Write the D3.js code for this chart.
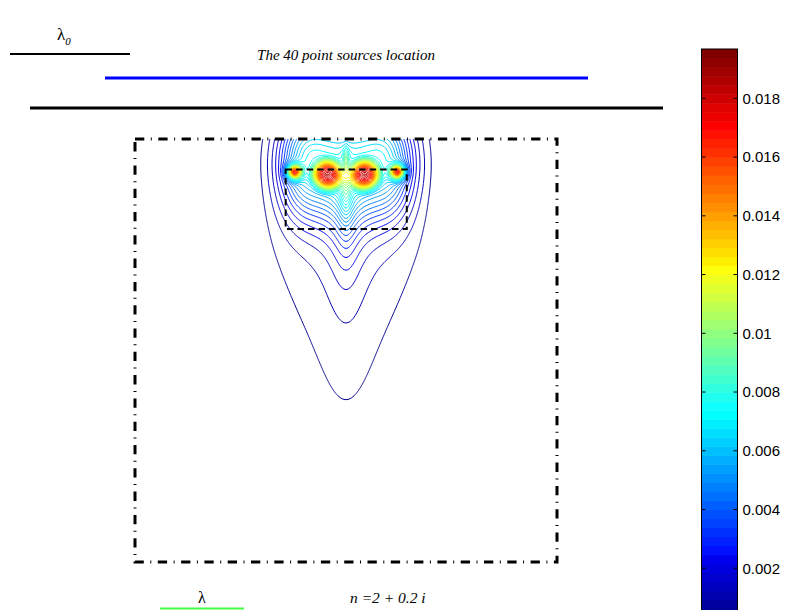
<!DOCTYPE html>
<html>
<head>
<meta charset="utf-8">
<script src="https://cdn.jsdelivr.net/npm/d3@7/dist/d3.min.js"></script>
<style>
  body { margin: 0; background: #fff; }
  svg { display: block; }
</style>
</head>
<body>
<svg id="chart" width="786" height="610"></svg>
<script>
// ---- Field components (box units: x in [-0.5, 0.5], depth z in [0, 1]) ----
// hot spots along the source row: rounded body plus a sharp tip
const spotX         = [-0.122, -0.044, 0.044, 0.122];
const spotZ         = [0.078, 0.085, 0.085, 0.078];
const spotPlateau   = [0.0105, 0.008, 0.008, 0.0105];
const spotRadius    = [0.012, 0.03, 0.03, 0.012];
const spotShape     = [2, 4, 4, 2];
const spotTip       = [0.0015, 0.004, 0.004, 0.0015];
const spotTipRadius = [0.01, 0.026, 0.026, 0.01];
// broad halos around the source row
const haloX   = [-0.122, 0, 0.122];
const haloZ   = [0.06, 0.05, 0.06];
const haloAmp = [0.0032, 0.0069, 0.0032];
const haloSx  = [0.041, 0.1, 0.041];
const haloSz  = [0.09, 0.08, 0.09];
const haloPx  = [2, 4, 2];
// downward transmitted beam
const beamX = 0, beamZ = 0.05;
const beamAmp = 0.000171, beamPow = 1.82, beamCore = 0.15;
const beamNarrow = 0.55, beamSpread = 0.15, beamSoft = 0.04, beamWing = 1.8;

// contour levels and colour scale
const levelCount = 40;
const zMax = 0.01968;
const colorTicks = [0.002, 0.004, 0.006, 0.008, 0.01, 0.012, 0.014, 0.016, 0.018];
const colorTickLabels = ["0.002", "0.004", "0.006", "0.008", "0.01", "0.012", "0.014", "0.016", "0.018"];

// probed sub-region (dashed box)
const regionX = [-0.143, 0.144];
const regionZ = [0.072, 0.213];

// annotation texts
const titleText = "The 40 point sources location";
const indexText = "n =2 + 0.2 i";

// ---- helpers ----
function field(x, z) {
  let v = 0;
  for (let i = 0; i < spotX.length; i++) {
    const dx = x - spotX[i], dz = z - spotZ[i];
    const d = Math.sqrt(dx * dx + dz * dz);
    v += spotPlateau[i] * Math.exp(-0.5 * Math.pow(d / spotRadius[i], spotShape[i]));
    v += spotTip[i] * Math.max(0, 1 - d / spotTipRadius[i]);
  }
  for (let i = 0; i < haloX.length; i++) {
    const ax = Math.abs(x - haloX[i]) / haloSx[i], az = (z - haloZ[i]) / haloSz[i];
    v += haloAmp[i] * Math.exp(-0.5 * Math.pow(ax, haloPx[i]) - 0.5 * az * az);
  }
  const dx = x - beamX, dz = z - beamZ;
  const dzp = Math.max(dz, 0);
  const w = beamSpread * Math.sqrt(dzp * dzp + beamSoft * beamSoft);
  const narrow = 1 / (1 + (dx / w) * (dx / w)) * (dz >= 0 ? 1 : Math.exp(-(dz / 0.03) * (dz / 0.03)));
  const wide = Math.pow(dzp * dzp / (dzp * dzp + dx * dx + 0.0004), beamWing);
  const D = beamNarrow * narrow + (1 - beamNarrow) * wide;
  const r2 = dx * dx + dz * dz;
  const radial = 1 / Math.pow(r2 * r2 + Math.pow(beamCore, 4), beamPow / 4);
  v += beamAmp * D * radial;
  return v;
}

// MATLAB-style jet(64)
function jetRow(i) { // i = 1..64
  const u = k => (k >= 1 && k <= 16) ? k / 16 : (k >= 17 && k <= 31) ? 1 : (k >= 32 && k <= 47) ? (48 - k) / 16 : 0;
  const r = u(i - 24), g = u(i - 8), b = u(i + 7);
  return d3.rgb(Math.round(r * 255), Math.round(g * 255), Math.round(b * 255)).toString();
}
function jetColor(v) {
  const idx = Math.max(1, Math.min(64, Math.floor(v / zMax * 64) + 1));
  return jetRow(idx);
}

// ---- layout ----
const svg = d3.select("#chart");
const xScale = d3.scaleLinear().domain([-0.5, 0.5]).range([135, 557]);
const zScale = d3.scaleLinear().domain([0, 1]).range([139, 562]);
const serif = "'Liberation Serif', 'Times New Roman', serif";

// ---- header schematic ----
svg.append("line").attr("x1", 10).attr("x2", 130).attr("y1", 54).attr("y2", 54)
  .attr("stroke", "#000").attr("stroke-width", 2);
const lam0 = svg.append("text").attr("x", 57).attr("y", 40)
  .attr("font-family", serif).attr("font-size", 17).attr("fill", "#000");
lam0.append("tspan").text("λ");
lam0.append("tspan").attr("dy", 5).attr("font-size", 11).attr("font-style", "italic").text("0");
svg.append("text").attr("x", 346).attr("y", 60).attr("text-anchor", "middle")
  .attr("font-family", serif).attr("font-style", "italic")
  .attr("font-size", 15).attr("fill", "#000").text(titleText);
svg.append("line").attr("x1", 105).attr("x2", 588).attr("y1", 78).attr("y2", 78)
  .attr("stroke", "#0000ff").attr("stroke-width", 3);
svg.append("line").attr("x1", 30).attr("x2", 663).attr("y1", 108).attr("y2", 108)
  .attr("stroke", "#000").attr("stroke-width", 3);

// ---- contour field ----
const step = 1 / 420;
const x0 = -0.5, z0 = -0.06;
const nx = 421, nz = Math.round((1.0 - z0) / step) + 1;
const values = new Float64Array(nx * nz);
for (let j = 0; j < nz; j++) {
  const z = z0 + j * step;
  for (let i = 0; i < nx; i++) values[j * nx + i] = field(x0 + i * step, z);
}
const levels = d3.range(1, levelCount + 1).map(k => k * zMax / (levelCount + 1));
const contours = d3.contours().size([nx, nz]).thresholds(levels)(values);

const proj = d3.geoTransform({
  point: function (gx, gy) {
    this.stream.point(xScale(x0 + (gx - 0.5) * step), zScale(z0 + (gy - 0.5) * step));
  }
});
const path = d3.geoPath(proj);

svg.append("clipPath").attr("id", "boxClip").append("rect")
  .attr("x", xScale(-0.5)).attr("y", zScale(0))
  .attr("width", xScale(0.5) - xScale(-0.5)).attr("height", zScale(1) - zScale(0));

svg.append("g").attr("clip-path", "url(#boxClip)")
  .selectAll("path").data(contours).join("path")
  .attr("d", path)
  .attr("fill", "none")
  .attr("stroke", d => jetColor(d.value))
  .attr("stroke-width", 1);

// dashed probe region
svg.append("rect")
  .attr("x", xScale(regionX[0])).attr("y", zScale(regionZ[0]))
  .attr("width", xScale(regionX[1]) - xScale(regionX[0]))
  .attr("height", zScale(regionZ[1]) - zScale(regionZ[0]))
  .attr("fill", "none").attr("stroke", "#000").attr("stroke-width", 2)
  .attr("stroke-dasharray", "6.5,4");

// dash-dot outer box
svg.append("rect")
  .attr("x", xScale(-0.5)).attr("y", zScale(0))
  .attr("width", xScale(0.5) - xScale(-0.5)).attr("height", zScale(1) - zScale(0))
  .attr("fill", "none").attr("stroke", "#000").attr("stroke-width", 3)
  .attr("stroke-dasharray", "9.3,6.5,1,6.5");

// ---- footer schematic ----
svg.append("text").attr("x", 202).attr("y", 603).attr("text-anchor", "middle")
  .attr("font-family", serif).attr("font-size", 16).attr("fill", "#000").text("λ");
svg.append("line").attr("x1", 160).attr("x2", 244).attr("y1", 608.5).attr("y2", 608.5)
  .attr("stroke", "#44ff44").attr("stroke-width", 2);
svg.append("text").attr("x", 350).attr("y", 603)
  .attr("font-family", serif).attr("font-style", "italic")
  .attr("font-size", 15.5).attr("fill", "#000").text(indexText);

// ---- colorbar ----
const cbX = 701.5, cbW = 36;
const cbScale = d3.scaleLinear().domain([0, zMax]).range([627, 49]);
const cb = svg.append("g");
cb.selectAll("rect.band").data(d3.range(1, 65)).join("rect")
  .attr("class", "band")
  .attr("x", cbX).attr("width", cbW)
  .attr("y", i => cbScale(i * zMax / 64))
  .attr("height", i => cbScale((i - 1) * zMax / 64) - cbScale(i * zMax / 64) + 0.5)
  .attr("fill", i => jetRow(i));
cb.append("rect").attr("x", cbX).attr("y", cbScale(zMax)).attr("width", cbW)
  .attr("height", cbScale(0) - cbScale(zMax))
  .attr("fill", "none").attr("stroke", "#000").attr("stroke-width", 1);
const cbAxis = d3.axisRight(cbScale).tickValues(colorTicks)
  .tickFormat((d, i) => colorTickLabels[i]).tickSize(0).tickPadding(0);
const axG = cb.append("g").attr("transform", `translate(${cbX + cbW + 5},0)`).call(cbAxis);
axG.select(".domain").remove();
axG.selectAll("text").attr("font-family", "'Liberation Sans', Arial, sans-serif")
  .attr("font-size", 15).attr("fill", "#000");
cb.selectAll("line.tl").data(colorTicks).join("line").attr("class", "tl")
  .attr("x1", cbX).attr("x2", cbX + 4).attr("y1", d => cbScale(d)).attr("y2", d => cbScale(d))
  .attr("stroke", "#000");
cb.selectAll("line.tr").data(colorTicks).join("line").attr("class", "tr")
  .attr("x1", cbX + cbW - 4).attr("x2", cbX + cbW).attr("y1", d => cbScale(d)).attr("y2", d => cbScale(d))
  .attr("stroke", "#000");
</script>
</body>
</html>
